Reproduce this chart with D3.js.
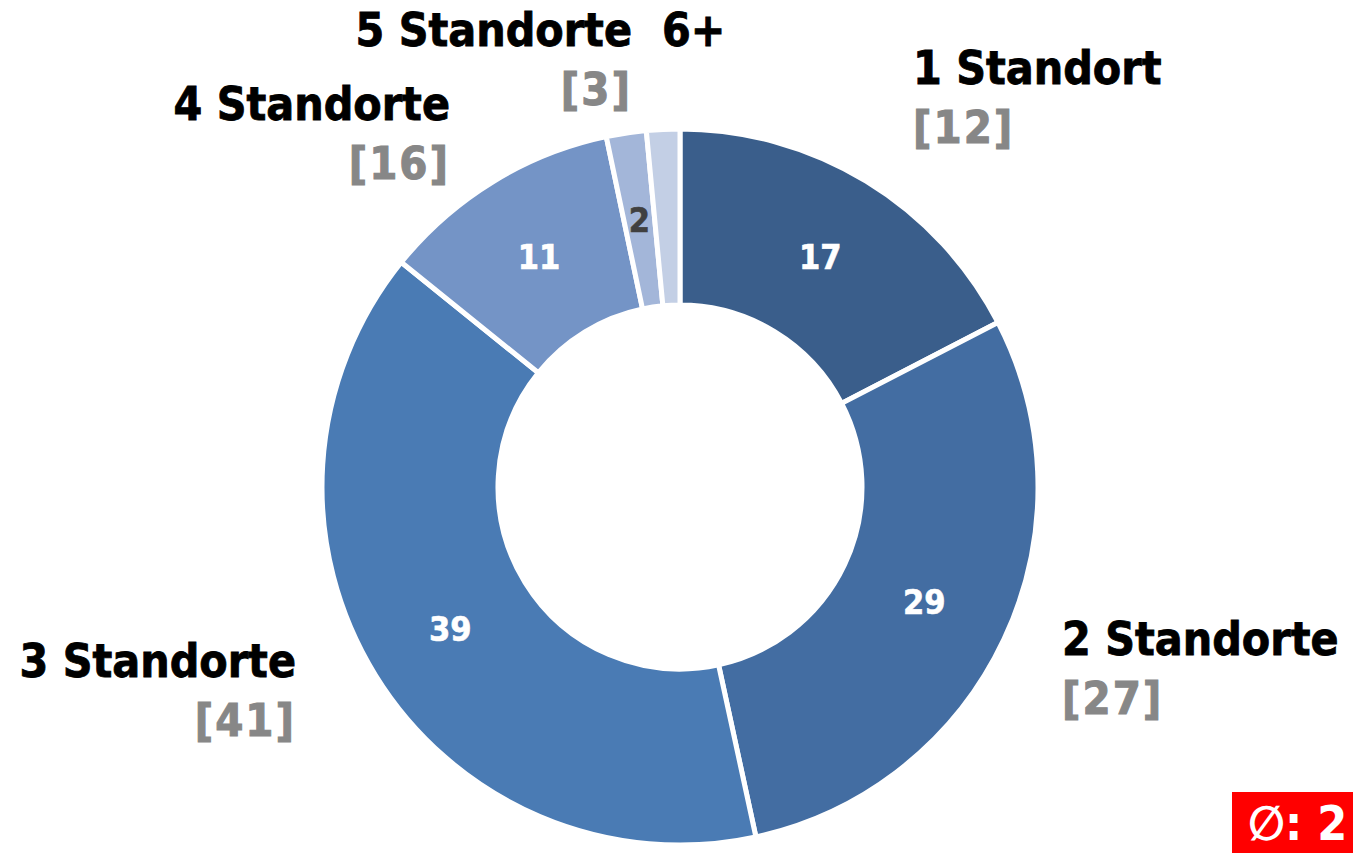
<!DOCTYPE html>
<html lang="de">
<head>
    <meta charset="utf-8" />
    <title>Standorte</title>
    <style>
        body {
            margin: 0;
            background: #fff;
            overflow: hidden;
        }
        svg text {
            font-family: "DejaVu Sans Condensed", "DejaVu Sans", Verdana, sans-serif;
            font-weight: bold;
        }
    </style>
    <script src="https://cdn.jsdelivr.net/npm/d3@7"></script>
</head>
<body>
<svg id="chart"></svg>

<script>
    // Slice data (share in %)
    const categories = ["1 Standort", "2 Standorte", "3 Standorte", "4 Standorte", "5 Standorte", "6+"];
    const shares = [17.4, 29.2, 39.2, 10.9, 1.8, 1.5];
    const shareLabels = ["17", "29", "39", "11", "2", ""];
    // previous values shown in brackets
    const previous = ["[12]", "[27]", "[41]", "[16]", "[3]", ""];
    const colors = ["#3a5e8b", "#436da2", "#4a7bb4", "#7494c6", "#a3b6d9", "#c3cfe5"];
    const averageSymbol = "\u2205";
    const averageValue = ": 2";

    const width = 1353, height = 853;
    const cx = 680, cy = 487;
    const outerR = 358, innerR = 182;

    const svg = d3.select("#chart")
        .attr("width", width)
        .attr("height", height);

    const pie = d3.pie().sort(null).value(d => d);
    const arc = d3.arc().innerRadius(innerR).outerRadius(outerR);

    const arcs = pie(shares);

    const ring = svg.append("g")
        .attr("transform", `translate(${cx},${cy})`);

    ring.selectAll("path")
        .data(arcs)
        .enter()
        .append("path")
        .attr("d", arc)
        .attr("fill", (d, i) => colors[i])
        .attr("stroke", "#fff")
        .attr("stroke-width", 5)
        .attr("stroke-linejoin", "miter");

    // values inside the ring
    ring.selectAll("text.val")
        .data(arcs)
        .enter()
        .append("text")
        .attr("class", "val")
        .attr("transform", d => `translate(${arc.centroid(d)})`)
        .attr("text-anchor", "middle")
        .attr("dy", "0.36em")
        .attr("font-size", 34)
        .attr("fill", (d, i) => i >= 4 ? "#404040" : "#fff")
        .attr("stroke", (d, i) => i >= 4 ? "#404040" : "#fff")
        .attr("stroke-width", 0.6)
        .text((d, i) => shareLabels[i]);

    // outside labels, placed by hand like in the original
    const labelLayout = [
        { x: 913, y: 84, anchor: "start" },
        { x: 1062, y: 655, anchor: "start" },
        { x: 296, y: 677, anchor: "end" },
        { x: 450, y: 120, anchor: "end" },
        { x: 632, y: 46, anchor: "end" },
        { x: 662, y: 46, anchor: "start" }
    ];

    const labels = svg.append("g");
    categories.forEach((name, i) => {
        const p = labelLayout[i];
        labels.append("text")
            .attr("x", p.x)
            .attr("y", p.y)
            .attr("text-anchor", p.anchor)
            .attr("font-size", 46)
            .attr("fill", "#000")
            .attr("stroke", "#000")
            .attr("stroke-width", 0.8)
            .text(name);
        if (previous[i]) {
            labels.append("text")
                .attr("x", p.x)
                .attr("y", p.y + 59)
                .attr("text-anchor", p.anchor)
                .attr("font-size", 45)
                .attr("letter-spacing", 2)
                .attr("fill", "#878787")
                .attr("stroke", "#878787")
                .attr("stroke-width", 1)
                .text(previous[i]);
        }
    });

    // average badge at the bottom right corner
    const badge = svg.append("g");
    badge.append("rect")
        .attr("x", 1232)
        .attr("y", 792)
        .attr("width", 130)
        .attr("height", 70)
        .attr("fill", "#ff0000");
    badge.append("text")
        .attr("x", 1248)
        .attr("y", 840)
        .attr("font-size", 48)
        .attr("fill", "#fff")
        .text(averageSymbol + averageValue);
</script>
</body>
</html>
